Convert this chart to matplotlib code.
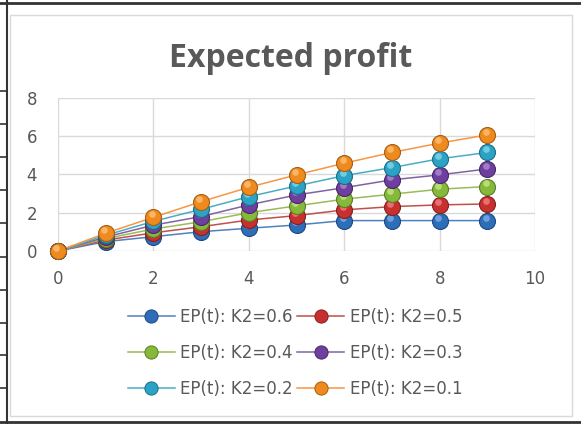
import numpy as np
import matplotlib.pyplot as plt
from matplotlib.lines import Line2D
from matplotlib.transforms import ScaledTranslation

plt.rcParams['font.family'] = ['DejaVu Sans']

t = [0, 1, 2, 3, 4, 5, 6, 7, 8, 9]
labels = ['EP(t): K2=0.6', 'EP(t): K2=0.5', 'EP(t): K2=0.4',
          'EP(t): K2=0.3', 'EP(t): K2=0.2', 'EP(t): K2=0.1']
ep_06 = [0, 0.49, 0.75, 1.01, 1.19, 1.36, 1.59, 1.59, 1.59, 1.59]
ep_05 = [0, 0.57, 0.95, 1.27, 1.62, 1.85, 2.15, 2.32, 2.41, 2.46]
ep_04 = [0, 0.65, 1.15, 1.53, 2.00, 2.36, 2.71, 2.97, 3.23, 3.37]
ep_03 = [0, 0.73, 1.35, 1.80, 2.41, 2.93, 3.31, 3.72, 3.98, 4.29]
ep_02 = [0, 0.82, 1.55, 2.18, 2.84, 3.40, 3.94, 4.36, 4.82, 5.15]
ep_01 = [0, 0.93, 1.76, 2.58, 3.33, 3.98, 4.59, 5.15, 5.64, 6.07]
series = [ep_06, ep_05, ep_04, ep_03, ep_02, ep_01]

# line colour, ball colour, ball rim, ball highlight
line_cols = ['#4F81BD', '#C0504D', '#9BBB59', '#8064A2', '#4BACC6', '#F79646']
ball_cols = ['#2E6DB8', '#C8302F', '#86B83A', '#6E3F9E', '#2AA3C4', '#EE8A1E']
edge_cols = ['#1C4A80', '#86201F', '#5A7E25', '#48286A', '#1B6E86', '#A85E12']
shine_cols = ['#7FAEE6', '#EE8080', '#C6E48A', '#AE8BD0', '#86D6EC', '#FFC07A']

fig = plt.figure(figsize=(5.81, 4.24), dpi=100)
ax = fig.add_axes([0.0998, 0.408, 0.8212, 0.361])

shine = ax.transData + ScaledTranslation(-1.2 / 72, 2.2 / 72, fig.dpi_scale_trans)
for ys, lc, bc, ec, sc in zip(series, line_cols, ball_cols, edge_cols, shine_cols):
    ax.plot(t, ys, color=lc, lw=1.1, zorder=3)
    ax.plot(t, ys, ls='none', marker='o', ms=11.5, mfc=bc, mec=ec, mew=0.8,
            zorder=4, clip_on=False)
    ax.plot(t, ys, ls='none', marker='o', ms=4.8, mfc=sc, mec='none',
            alpha=0.8, zorder=4, clip_on=False, transform=shine)

ax.set_xlim(0, 10)
ax.set_ylim(0, 8)
ax.set_xticks(range(0, 11, 2))
ax.set_yticks(range(0, 9, 2))
ax.grid(True, color='#D9D9D9', lw=1)
ax.set_axisbelow(True)
for s in ax.spines.values():
    s.set_visible(False)
ax.tick_params(length=0, labelsize=12, labelcolor='#595959')
ax.tick_params(axis='x', pad=14)
ax.tick_params(axis='y', pad=15)

fig.text(0.5, 0.862, 'Expected profit', ha='center', va='center',
         fontsize=23, fontweight='bold', color='#595959', family='Open Sans')

handles = []
for lc, bc, ec in zip(line_cols, ball_cols, edge_cols):
    handles.append(Line2D([], [], color=lc, lw=1.1, marker='o', ms=9.5,
                          mfc=bc, mec=ec, mew=0.7))
# legend reads row by row: (0.6, 0.5), (0.4, 0.3), (0.2, 0.1)
order = [0, 2, 4, 1, 3, 5]
fig.legend([handles[i] for i in order], [labels[i] for i in order], ncol=2,
           loc='center', bbox_to_anchor=(0.508, 0.1675), frameon=False,
           fontsize=12, labelcolor='#595959', handlelength=2.8,
           handletextpad=0.35, columnspacing=0.25, labelspacing=1.1)

# chart border and surrounding page lines
fig.add_artist(plt.Rectangle((10 / 581, 1 - 416 / 424), 562 / 581, 401 / 424,
                             transform=fig.transFigure, fill=False,
                             ec='#D9D9D9', lw=1))
fig.add_artist(Line2D([0, 1], [1 - 3 / 424] * 2, color='#333333', lw=2))
fig.add_artist(Line2D([0, 1], [1 - 422 / 424] * 2, color='#333333', lw=2))
fig.add_artist(Line2D([6.5 / 581] * 2, [0, 1], color='#333333', lw=1.5))
for yy in [91, 124, 157, 190, 223, 257, 290, 323, 355, 388]:
    fig.add_artist(Line2D([0, 6.5 / 581], [1 - yy / 424] * 2,
                          color='#333333', lw=1.2))

fig.savefig('out.png', dpi=100)
